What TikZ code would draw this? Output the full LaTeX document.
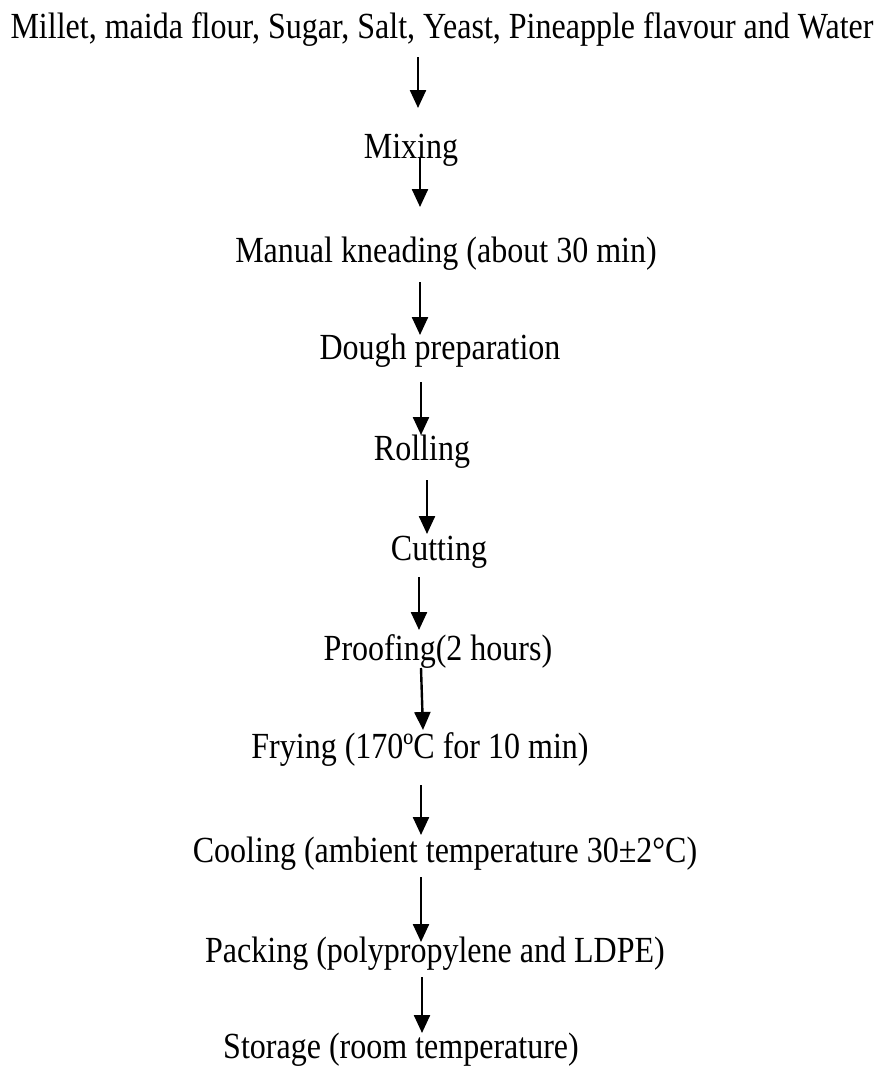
\documentclass[tikz,border=0pt]{standalone}
\usepackage{fontspec}
\setmainfont{Liberation Serif}[FakeStretch=0.87]
\usetikzlibrary{arrows.meta}
\begin{document}
\begin{tikzpicture}[x=1pt,y=-1pt,
  lbl/.style={anchor=base,inner sep=0pt,font=\fontsize{36.8}{42}\selectfont},
  arr/.style={line width=2.4pt,-{Triangle[length=18pt,width=16pt]}}]
\useasboundingbox (0,0) rectangle (883,1066);
\node[lbl] (t0) at (442,38) {Millet, maida flour, Sugar, Salt, Yeast, Pineapple flavour and Water};
\node[lbl] (t1) at (411,158) {Mixing};
\node[lbl] (t2) at (446,262) {Manual kneading (about 30 min)};
\node[lbl] (t3) at (440,359) {Dough preparation};
\node[lbl] (t4) at (422,460) {Rolling};
\node[lbl] (t5) at (439,560) {Cutting};
\node[lbl] (t6) at (438,660) {Proofing(2 hours)};
\node[lbl] (t7) at (420,758) {Frying (170ºC for 10 min)};
\node[lbl] (t8) at (445,862) {Cooling (ambient temperature 30±2°C)};
\node[lbl] (t9) at (435,962) {Packing (polypropylene and LDPE)};
\node[lbl] (t10) at (401,1058) {Storage (room temperature)};
\coordinate (a1s) at (418,57);  \coordinate (a1e) at (418,108);
\coordinate (a2s) at (420,157); \coordinate (a2e) at (420,207);
\coordinate (a3s) at (420,282); \coordinate (a3e) at (420,335);
\coordinate (a4s) at (421,382); \coordinate (a4e) at (421,435);
\coordinate (a5s) at (427,480); \coordinate (a5e) at (427,534);
\coordinate (a6s) at (419,577); \coordinate (a6e) at (419,630);
\coordinate (a7s) at (421,668); \coordinate (a7e) at (423,730);
\coordinate (a8s) at (421,785); \coordinate (a8e) at (421,835);
\coordinate (a9s) at (421,877); \coordinate (a9e) at (421,942);
\coordinate (a10s) at (422,977); \coordinate (a10e) at (422,1033);
\foreach \i in {1,...,10} { \draw[arr] (a\i s) -- (a\i e); }
\end{tikzpicture}
\end{document}
